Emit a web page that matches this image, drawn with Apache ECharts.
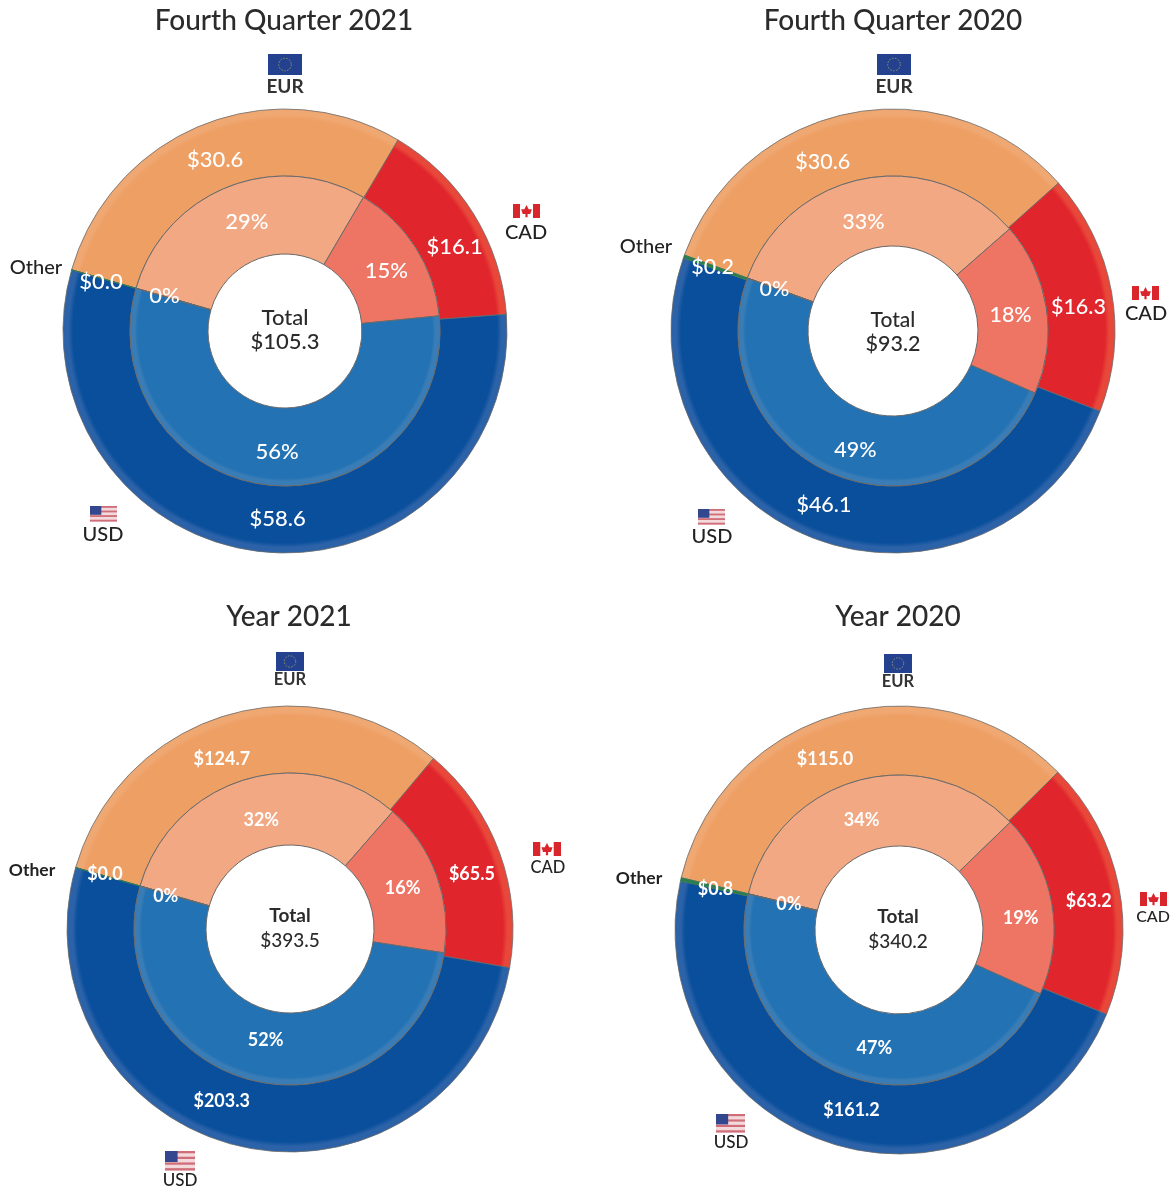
<!DOCTYPE html>
<html><head><meta charset="utf-8">
<style>html,body{margin:0;padding:0;background:#fff}#c{width:1174px;height:1190px}</style>
<script src="https://cdn.jsdelivr.net/npm/echarts@6/dist/echarts.min.js"></script>
</head><body><div id="c"></div>
<script>
// ---- data ----
const categories = ['EUR', 'CAD', 'USD', 'Other'];
const titles = ['Fourth Quarter 2021', 'Fourth Quarter 2020', 'Year 2021', 'Year 2020'];
const totals = ['$105.3', '$93.2', '$393.5', '$340.2'];
const amountsQ421 = [30.6, 16.1, 58.6, 0.0];
const amountsQ420 = [30.6, 16.3, 46.1, 0.2];
const amountsY21 = [124.7, 65.5, 203.3, 0.0];
const amountsY20 = [115.0, 63.2, 161.2, 0.8];
const sharesQ421 = [29, 15, 56, 0];
const sharesQ420 = [33, 18, 49, 0];
const sharesY21 = [32, 16, 52, 0];
const sharesY20 = [34, 19, 47, 0];
const amounts = [amountsQ421, amountsQ420, amountsY21, amountsY20];
const shares = [sharesQ421, sharesQ420, sharesY21, sharesY20];

// ---- layout & style ----
const FONT = 'Lato, "Open Sans", sans-serif';
const outerColors = ['#EE9F64', '#E0262C', '#0A4F9B', '#2E7D50'];
const rimColors = ['#F0A873', '#E8483A', '#2B62A8', '#2E7D50'];
const innerColors = ['#F1A883', '#EE7564', '#2272B4', '#2272B4'];
const innerRims = ['#F1A883', '#EE7564', '#3A7DB6', '#3A7DB6'];
const panels = [
  {cx:285, cy:331, r:[77,155,222], start:164, labelSize:22, labelWeight:500, titleX:284, titleY:21,
   eur:[268,54,34,21,285,87,19], cad:[513,204,27,14,526,233,20], usd:[90,506,27,16,103,535,20], other:[36,268,20], tot:[285,318,342,22,22],
   outerNudge:[[1,7],[7,17],[12,-3],[0,4]], innerNudge:[[6,1],[1,4],[3,2],[-6,-2]]},
  {cx:893, cy:331, r:[85,155,222], start:160, labelSize:21.5, labelWeight:500, titleX:893, titleY:21,
   eur:[877,54,34,21,894,87,19], cad:[1132,286,27,14,1146,314,20], usd:[698,509,27,16,712,537,20], other:[646,247,20], tot:[893,320,344,21,21.5],
   outerNudge:[[-34,19],[-3,10],[-3,-6],[0,0]], innerNudge:[[-7,12],[-4,3],[8,5],[-3,0]]},
  {cx:290, cy:929, r:[84,156,223], start:164, labelSize:18, labelWeight:700, titleX:289, titleY:617,
   eur:[276,652,28,19,290,680,16.5], cad:[533,842,28,14,548,868,16.5], usd:[165,1151,30,20,180,1181,17], other:[32,870,17.5], tot:[290,916,941,19,19],
   outerNudge:[[-12,14],[1,11],[-25,-15],[0,-2]], innerNudge:[[6,9],[-3,1],[2,-9],[-6,1]]},
  {cx:899, cy:930, r:[84,155,224], start:166.5, labelSize:18, labelWeight:700, titleX:898, titleY:617,
   eur:[884,654,28,19,898,682,16.5], cad:[1140,892,27,14,1153,917,16], usd:[716,1114,29,19,731,1143,17], other:[639,878,17.5], tot:[898,917,942,19,19],
   outerNudge:[[-22,15],[1,9],[10,-4],[4,3]], innerNudge:[[-5,8],[1,9],[15,2],[9,3]]}
];

function text(x, y, s, size, weight, color) {
  return {type:'text', silent:true, style:{x:x, y:y, text:s, fill:color||'#2b2b2b', font:(weight||500)+' '+size+'px '+FONT, textAlign:'center', textVerticalAlign:'middle'}};
}
function rect(x,y,w,h,fill){return {type:'rect',silent:true,shape:{x:x,y:y,width:w,height:h},style:{fill:fill}};}
function flagEU(x,y,w,h){
  const out=[rect(x,y,w,h,'#24418F')];
  out.push({type:'circle',silent:true,shape:{cx:x+w/2,cy:y+h/2,r:h*0.3},style:{fill:'none',stroke:'#8F9A6A',lineWidth:1,lineDash:[1.5,1.5]}});
  return out;
}
function flagCA(x,y,w,h){
  const cx=x+w/2, cy=y+h/2;
  return [rect(x,y,w,h,'#fff'),rect(x,y,w*0.26,h,'#D9262C'),rect(x+w*0.74,y,w*0.26,h,'#D9262C'),
    {type:'polygon',silent:true,shape:{points:[[cx,cy-h*0.42],[cx+w*0.08,cy-h*0.12],[cx+w*0.2,cy-h*0.12],[cx+w*0.14,cy+h*0.22],[cx+w*0.04,cy+h*0.22],[cx+w*0.04,cy+h*0.45],[cx-w*0.04,cy+h*0.45],[cx-w*0.04,cy+h*0.22],[cx-w*0.14,cy+h*0.22],[cx-w*0.2,cy-h*0.12],[cx-w*0.08,cy-h*0.12]]},style:{fill:'#D9262C'}}];
}
function flagUS(x,y,w,h){
  const out=[rect(x,y,w,h,'#F3D9DC')];
  const n=7, sh=h/n;
  for(let i=0;i<n;i+=2) out.push(rect(x,y+i*sh,w,sh*0.8,'#CF6D78'));
  out.push(rect(x,y,w*0.42,h*0.55,'#33478F'));
  return out;
}
function nudge(list){
  return params => ({dx:list[params.dataIndex][0], dy:list[params.dataIndex][1], hideOverlap:false});
}

const series = [], graphic = [];
panels.forEach((p, i) => {
  const ringFill = (base, rim, rOut, from) => ({
    type:'radial', x:p.cx, y:p.cy, r:rOut, global:true,
    colorStops:[{offset:0,color:base},{offset:from,color:base},{offset:from+0.02,color:rim},{offset:1,color:rim}]
  });
  series.push({
    type:'pie', silent:true, animation:false, center:[p.cx,p.cy], radius:[p.r[1],p.r[2]],
    startAngle:p.start, clockwise:true, avoidLabelOverlap:false, stillShowZeroSum:true, z:2,
    labelLine:{show:false}, labelLayout:nudge(p.outerNudge),
    label:{show:true, position:'inside', color:'#fff', fontFamily:FONT, fontSize:p.labelSize, fontWeight:p.labelWeight,
      formatter:d=>'$'+d.value.toFixed(1)},
    itemStyle:{borderColor:'#6a6a6a', borderWidth:0.8},
    data:categories.map((c,k)=>({name:c, value:amounts[i][k],
      itemStyle:{color:ringFill(outerColors[k],rimColors[k],p.r[2],0.955), borderColor:k===3?outerColors[3]:'#6a6a6a'}}))
  });
  series.push({
    type:'pie', silent:true, animation:false, center:[p.cx,p.cy], radius:[p.r[0],p.r[1]],
    startAngle:p.start, clockwise:true, avoidLabelOverlap:false, stillShowZeroSum:true, z:3,
    labelLine:{show:false}, labelLayout:nudge(p.innerNudge),
    label:{show:true, position:'inside', color:'#fff', fontFamily:FONT, fontSize:p.labelSize, fontWeight:p.labelWeight,
      formatter:d=>d.value+'%'},
    itemStyle:{borderColor:'#6a6a6a', borderWidth:1},
    data:categories.map((c,k)=>({name:c, value:shares[i][k], itemStyle:{color:ringFill(innerColors[k],innerRims[k],p.r[1],0.95)}}))
  });
  graphic.push(text(p.titleX,p.titleY,titles[i],28,500,'#2b2b2b'));
  graphic.push(text(p.tot[0],p.tot[1],'Total',p.tot[3],i<2?500:700,'#2b2b2b'));
  graphic.push(text(p.tot[0],p.tot[2],totals[i],p.tot[4],500,'#2b2b2b'));
  graphic.push(...flagEU(p.eur[0],p.eur[1],p.eur[2],p.eur[3]));
  graphic.push(text(p.eur[4],p.eur[5],categories[0],p.eur[6],700,'#333'));
  graphic.push(...flagCA(p.cad[0],p.cad[1],p.cad[2],p.cad[3]));
  graphic.push(text(p.cad[4],p.cad[5],categories[1],p.cad[6],500,'#222'));
  graphic.push(...flagUS(p.usd[0],p.usd[1],p.usd[2],p.usd[3]));
  graphic.push(text(p.usd[4],p.usd[5],categories[2],p.usd[6],500,'#222'));
  graphic.push(text(p.other[0],p.other[1],categories[3],p.other[2],i<2?500:700,'#222'));
});

const chart = echarts.init(document.getElementById('c'), null, {renderer:'canvas'});
chart.setOption({animation:false, backgroundColor:'#fff', series:series, graphic:{elements:graphic}});
</script></body></html>
